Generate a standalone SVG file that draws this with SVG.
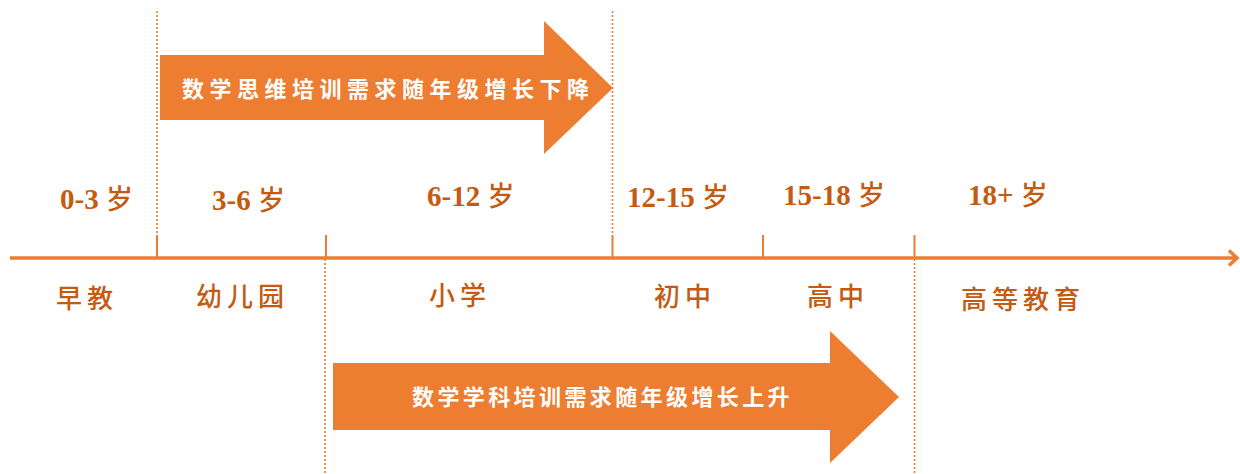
<svg xmlns="http://www.w3.org/2000/svg" width="1240" height="474" viewBox="0 0 1240 474">
<style>
.axis{stroke:#ED7D31;stroke-width:3.5;fill:none}
.tick{stroke:#ED7D31;stroke-width:2;fill:none}
.dot{stroke:#ED7D31;stroke-width:1.6;stroke-dasharray:2 2;fill:none}
.band{fill:#ED7D31}
.band-text{font-family:"Noto Sans CJK SC","Noto Sans CJK JP",sans-serif;font-size:22px;font-weight:bold;fill:#FFFFFF}
.age{font-family:"Liberation Serif","Noto Sans CJK SC",serif;font-size:29px;font-weight:bold;fill:#C55A11}
.age .sui{font-family:"Noto Sans CJK SC",sans-serif;font-weight:500;font-size:27px}
.stage{font-family:"Noto Sans CJK SC","Noto Sans CJK JP",sans-serif;font-size:26px;font-weight:500;fill:#C55A11;letter-spacing:5px}
</style>
<g id="connectors">
  <line class="axis" x1="10" y1="258" x2="1236" y2="258"/>
  <polyline class="axis" points="1229,250.5 1237,258 1229,265.5"/>
  <line class="tick" x1="157" y1="235" x2="157" y2="258"/>
  <line class="tick" x1="326" y1="235" x2="326" y2="258"/>
  <line class="tick" x1="612.5" y1="235" x2="612.5" y2="258"/>
  <line class="tick" x1="763" y1="235" x2="763" y2="258"/>
  <line class="tick" x1="914.5" y1="235" x2="914.5" y2="258"/>
  <line class="dot" x1="157" y1="11" x2="157" y2="235"/>
  <line class="dot" x1="612.5" y1="11" x2="612.5" y2="235"/>
  <line class="dot" x1="325" y1="259" x2="325" y2="474"/>
  <line class="dot" x1="914.5" y1="259" x2="914.5" y2="474"/>
</g>
<g id="arrow-top">
  <polygon class="band" points="160,55 544,55 544,21 613,88 544,154 544,120 160,120"/>
  <text class="band-text" x="182" y="97" letter-spacing="5.5">数学思维培训需求随年级增长下降</text>
</g>
<g id="arrow-bottom">
  <polygon class="band" points="333,363 830,363 830,331 899,397 830,463 830,430 333,430"/>
  <text class="band-text" x="412" y="405" letter-spacing="3.4">数学学科培训需求随年级增长上升</text>
</g>
<g id="age-0-3"><text class="age" x="60" y="209">0-3 <tspan class="sui">岁</tspan></text></g>
<g id="age-3-6"><text class="age" x="212" y="210">3-6 <tspan class="sui">岁</tspan></text></g>
<g id="age-6-12"><text class="age" x="427" y="206">6-12 <tspan class="sui">岁</tspan></text></g>
<g id="age-12-15"><text class="age" x="627" y="207">12-15 <tspan class="sui">岁</tspan></text></g>
<g id="age-15-18"><text class="age" x="783" y="205">15-18 <tspan class="sui">岁</tspan></text></g>
<g id="age-18plus"><text class="age" x="968" y="205">18+ <tspan class="sui">岁</tspan></text></g>
<g id="stage-zaojiao"><text class="stage" x="56" y="308">早教</text></g>
<g id="stage-youeryuan"><text class="stage" x="196" y="306">幼儿园</text></g>
<g id="stage-xiaoxue"><text class="stage" x="429" y="305">小学</text></g>
<g id="stage-chuzhong"><text class="stage" x="654" y="306">初中</text></g>
<g id="stage-gaozhong"><text class="stage" x="807" y="306">高中</text></g>
<g id="stage-gaodeng"><text class="stage" x="961" y="309">高等教育</text></g>
</svg>
